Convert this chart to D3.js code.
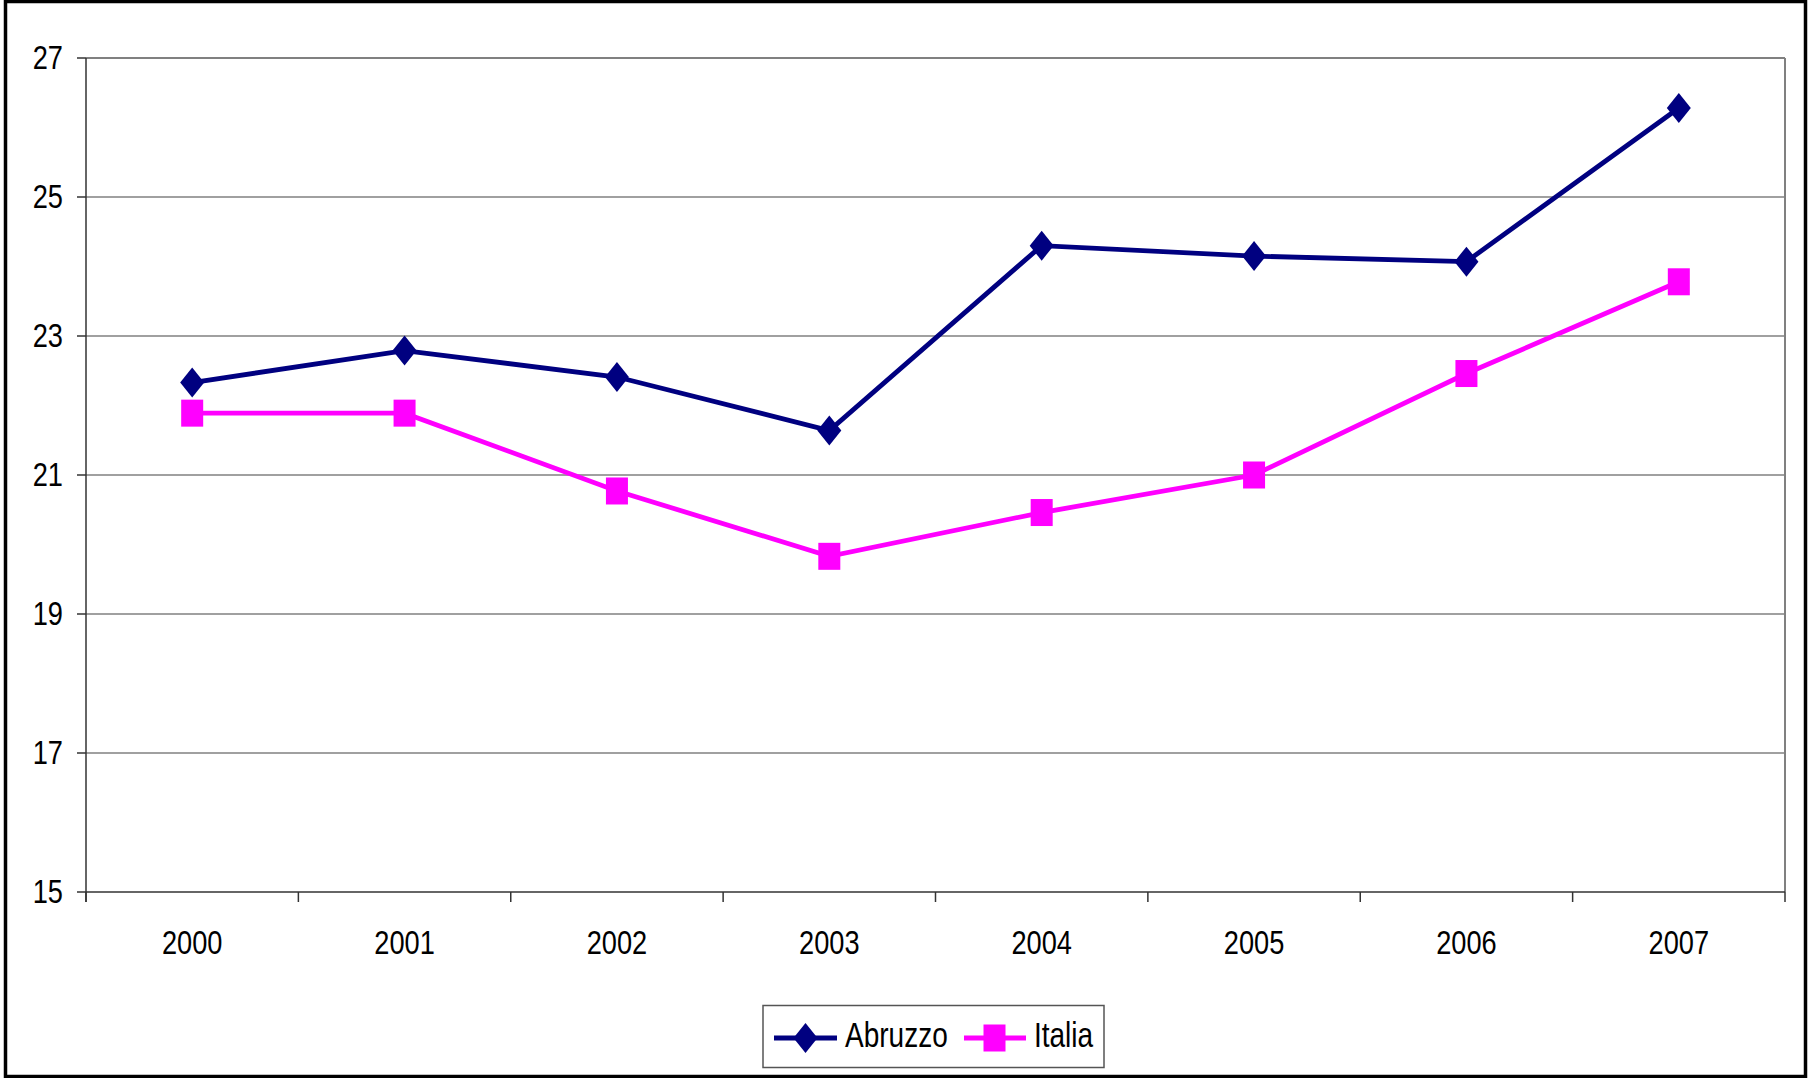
<!DOCTYPE html>
<html><head><meta charset="utf-8">
<script src="https://cdn.jsdelivr.net/npm/d3@7"></script>
<style>html,body{margin:0;padding:0;background:#fff;}svg{display:block;}text{font-family:"Liberation Sans",Arial,sans-serif;fill:#000;}</style>
</head><body>
<svg id="c" width="1811" height="1078"></svg>
<script>
const years = ["2000","2001","2002","2003","2004","2005","2006","2007"];
const abruzzo = [22.33, 22.79, 22.41, 21.64, 24.30, 24.15, 24.07, 26.28];
const italia = [21.89, 21.89, 20.77, 19.83, 20.46, 21.00, 22.46, 23.78];
const yTicks = [15, 17, 19, 21, 23, 25, 27];
const seriesNames = ["Abruzzo", "Italia"];

const svg = d3.select("#c");
const L = 86, R = 1785, T = 58, B = 892;
const x = d3.scaleBand().domain(years).range([L, R]);
const y = d3.scaleLinear().domain([15, 27]).range([B, T]);
const FS = 34, SX = 0.8;

// outer border
svg.append("rect").attr("x", 5.5).attr("y", 1.5).attr("width", 1800).attr("height", 1075)
  .attr("fill", "#fff").attr("stroke", "#000").attr("stroke-width", 3.5);

// gridlines
svg.append("g").selectAll("line").data(yTicks.filter(d => d > 15)).join("line")
  .attr("x1", L).attr("x2", R).attr("y1", d => y(d)).attr("y2", d => y(d))
  .attr("stroke", "#808080").attr("stroke-width", d => d === 27 ? 2 : 1.5);
// right plot border
svg.append("line").attr("x1", R).attr("x2", R).attr("y1", T).attr("y2", B)
  .attr("stroke", "#808080").attr("stroke-width", 2);

// y axis
svg.append("line").attr("x1", L).attr("x2", L).attr("y1", T).attr("y2", B + 10)
  .attr("stroke", "#333").attr("stroke-width", 1.5);
svg.append("g").selectAll("line").data(yTicks).join("line")
  .attr("x1", L - 9).attr("x2", L).attr("y1", d => y(d)).attr("y2", d => y(d))
  .attr("stroke", "#333").attr("stroke-width", 1.5);
svg.append("g").selectAll("text").data(yTicks).join("text")
  .attr("transform", d => `translate(63,${y(d) + 11}) scale(${SX},1)`)
  .attr("text-anchor", "end").attr("font-size", FS).text(d => d);

// x axis
svg.append("line").attr("x1", L).attr("x2", R).attr("y1", B).attr("y2", B)
  .attr("stroke", "#333").attr("stroke-width", 1.5);
const bounds = years.map(d => x(d)).concat([R]);
svg.append("g").selectAll("line").data(bounds).join("line")
  .attr("x1", d => d).attr("x2", d => d).attr("y1", B).attr("y2", B + 10)
  .attr("stroke", "#333").attr("stroke-width", 1.5);
svg.append("g").selectAll("text").data(years).join("text")
  .attr("transform", d => `translate(${x(d) + x.bandwidth() / 2},${954}) scale(${SX},1)`)
  .attr("text-anchor", "middle").attr("font-size", FS).text(d => d);

const cx = d => x(d) + x.bandwidth() / 2;
const line = d3.line().x((d, i) => cx(years[i])).y(d => y(d));

function diamond(g, px, py) {
  g.append("path").attr("d", `M${px},${py - 15}L${px + 12},${py}L${px},${py + 15}L${px - 12},${py}Z`).attr("fill", "#000080");
}
function square(g, px, py) {
  g.append("rect").attr("x", px - 11).attr("y", py - 13.5).attr("width", 22).attr("height", 27).attr("fill", "#FF00FF");
}

// Italia
const gi = svg.append("g");
gi.append("path").datum(italia).attr("d", line).attr("fill", "none").attr("stroke", "#FF00FF").attr("stroke-width", 4.8);
italia.forEach((v, i) => square(gi, cx(years[i]), y(v)));
// Abruzzo
const ga = svg.append("g");
ga.append("path").datum(abruzzo).attr("d", line).attr("fill", "none").attr("stroke", "#000080").attr("stroke-width", 4.8);
abruzzo.forEach((v, i) => diamond(ga, cx(years[i]), y(v)));

// legend
const lg = svg.append("g");
lg.append("rect").attr("x", 763).attr("y", 1005.5).attr("width", 341).attr("height", 62)
  .attr("fill", "#fff").attr("stroke", "#555").attr("stroke-width", 1.5);
lg.append("line").attr("x1", 774).attr("x2", 837).attr("y1", 1038).attr("y2", 1038).attr("stroke", "#000080").attr("stroke-width", 4.8);
diamond(lg, 805.5, 1038);
lg.append("text").attr("transform", `translate(845,1047) scale(${SX},1)`).attr("font-size", 35).text(seriesNames[0]);
lg.append("line").attr("x1", 964).attr("x2", 1026).attr("y1", 1038).attr("y2", 1038).attr("stroke", "#FF00FF").attr("stroke-width", 4.8);
square(lg, 994.5, 1038);
lg.append("text").attr("transform", `translate(1034,1047) scale(${SX},1)`).attr("font-size", 35).text(seriesNames[1]);
</script>
</body></html>
